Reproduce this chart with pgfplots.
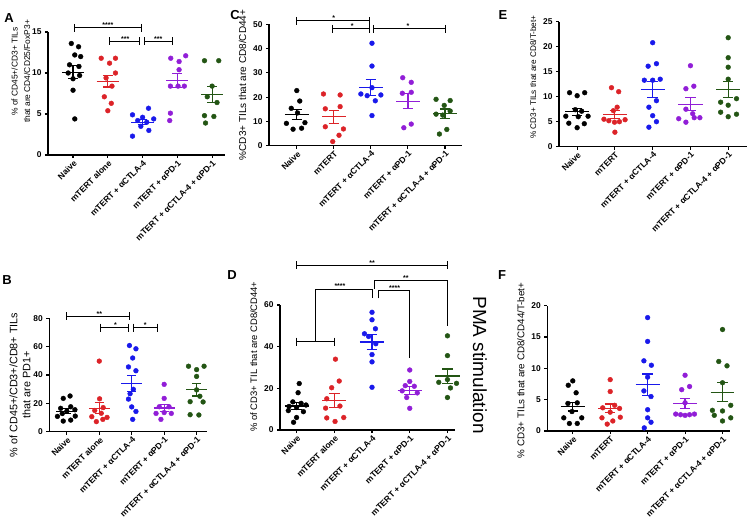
\documentclass[border=0pt]{standalone}
\usepackage{fontspec}
\setmainfont{Liberation Sans}
\usepackage{pgfplots}
\pgfplotsset{compat=1.18}

\definecolor{cblack}{RGB}{0,0,0}
\definecolor{cred}{RGB}{220,35,40}
\definecolor{cblue}{RGB}{25,25,235}
\definecolor{cpurple}{RGB}{145,30,215}
\definecolor{cgreen}{RGB}{35,85,20}

% mean +- SEM: x, mean, sem, colour
\newcommand{\msem}[4]{%
  \addplot[#4,line width=1.3pt] coordinates {({#1-0.32},#2) ({#1+0.32},#2)};
  \addplot[#4,line width=1.2pt] coordinates {(#1,{#2-#3}) (#1,{#2+#3})};
  \addplot[#4,line width=1.2pt] coordinates {({#1-0.14},{#2+#3}) ({#1+0.14},{#2+#3})};
  \addplot[#4,line width=1.2pt] coordinates {({#1-0.14},{#2-#3}) ({#1+0.14},{#2-#3})};
}
% significance bar: x1, x2, y, stars, xmid
\newcommand{\ibeam}[5]{%
  \draw[line width=0.9pt] (axis cs:#1,#3) -- (axis cs:#2,#3);
  \draw[line width=0.9pt] ([yshift=4pt]axis cs:#1,#3) -- ([yshift=-4pt]axis cs:#1,#3);
  \draw[line width=0.9pt] ([yshift=4pt]axis cs:#2,#3) -- ([yshift=-4pt]axis cs:#2,#3);
  \node[font=\bfseries\fontsize{7}{7}\selectfont,anchor=base,inner sep=0pt] at (axis cs:#5,#3) {#4};
}
\newcommand{\stars}[3]{\node[font=\bfseries\fontsize{7}{7}\selectfont,anchor=base,inner sep=0pt] at (axis cs:#1,#2) {#3};}

\pgfplotsset{
  prism/.style={
    scale only axis, anchor=south west, clip=false,
    axis lines=left, axis line style={-,line width=1.1pt},
    tick align=outside, major tick length=3pt,
    tick style={line width=1.1pt,black},
    xtick={0,1,2,3,4},
    x tick label style={rotate=45,anchor=north east,inner sep=1pt,
      font=\bfseries\fontsize{8.5}{9}\selectfont},
    y tick label style={font=\bfseries\fontsize{8.4}{9}\selectfont},
    ylabel style={align=center},
    /pgf/number format/assume math mode=true,
    every axis plot/.append style={mark size=2.4pt},
  },
  alone/.style={xticklabels={Naive,mTERT alone,mTERT + αCTLA-4,mTERT + αPD-1,mTERT + αCTLA-4 + αPD-1}},
  plain/.style={xticklabels={Naive,mTERT,mTERT + αCTLA-4,mTERT + αPD-1,mTERT + αCTLA-4 + αPD-1}},
  dots/.style={only marks,mark=*,#1},
}

\begin{document}
\begin{tikzpicture}
\useasboundingbox (0,0) rectangle (748pt,531pt);

% ---------------- A
\begin{axis}[prism,alone,at={(48pt,376pt)},width=177pt,height=123pt,
  xmin=-0.72,xmax=4.37,ymin=0,ymax=15,ytick={0,5,10,15},
  ylabel style={font=\fontsize{8.4}{12.5}\selectfont,xshift=22pt,yshift=-5pt},
  ylabel={\% of CD45+/CD3+ TILs\\that are CD4/CD25/FoxP3+}]
\addplot[dots=cblack] coordinates {(-0.05,13.6) (0.16,13.2) (0.05,12.2) (0.22,12.0) (-0.1,11.0) (0.17,10.8) (-0.14,10.0) (0.19,9.7) (0.0,9.3) (0.0,7.9) (0.05,4.4)};
\addplot[dots=cred] coordinates {(0.81,11.8) (1.22,11.8) (1.05,11.2) (1.22,10.0) (0.95,9.4) (1.12,8.4) (0.9,7.1) (1.1,6.3) (1.0,5.4)};
\addplot[dots=cblue] coordinates {(2.17,5.7) (1.71,4.9) (2.0,4.6) (2.32,4.4) (1.86,4.2) (2.12,4.0) (1.95,3.5) (2.18,3.0) (1.71,2.3)};
\addplot[dots=cpurple] coordinates {(2.81,11.8) (3.24,12.1) (3.05,11.4) (3.05,10.4) (2.8,8.4) (3.02,8.4) (3.2,8.4) (2.8,5.1) (2.78,4.2)};
\addplot[dots=cgreen] coordinates {(3.78,11.5) (4.19,11.5) (4.0,8.4) (3.86,7.1) (4.14,6.4) (3.78,4.8) (4.05,4.7) (3.81,3.9)};
\msem{0}{10.1}{0.8}{cblack}
\msem{1}{9.0}{0.7}{cred}
\msem{2}{4.0}{0.3}{cblue}
\msem{3}{9.1}{0.85}{cpurple}
\msem{4}{7.4}{1.0}{cgreen}
\ibeam{0.03}{1.97}{15.5}{****}{1}
\ibeam{1.05}{1.92}{13.85}{***}{1.5}
\ibeam{2.06}{2.86}{13.85}{***}{2.45}
\end{axis}

% ---------------- C
\begin{axis}[prism,plain,at={(269pt,385.3pt)},width=193pt,height=121.4pt,
  xmin=-0.75,xmax=4.46,ymin=0,ymax=50,ytick={0,10,20,30,40,50},
  ylabel style={font=\fontsize{10}{12}\selectfont},
  ylabel={\%CD3+ TILs that are CD8/CD44+}]
\addplot[dots=cblack] coordinates {(0,22.7) (0.08,18.4) (-0.15,15.4) (0.02,13.5) (-0.28,9.2) (0.22,9.5) (-0.1,6.8) (0.13,7.2)};
\addplot[dots=cred] coordinates {(0.72,21.3) (1.17,20.9) (1.17,16.1) (0.77,15.2) (0.77,7.8) (1.26,6.9) (1.14,4.3) (0.97,1.7)};
\addplot[dots=cblue] coordinates {(2.03,42.2) (2.03,32.8) (2.03,23.9) (1.73,21.3) (2.27,20.9) (1.9,20.6) (2.12,18.5) (2.03,12.4)};
\addplot[dots=cpurple] coordinates {(2.86,28.0) (3.09,26.1) (3.09,22.0) (2.85,21.6) (3.09,8.9) (2.89,7.4)};
\addplot[dots=cgreen] coordinates {(3.76,19.1) (4.14,18.6) (3.98,16.6) (4.14,14.3) (3.76,13.0) (3.94,12.6) (4.05,6.7) (3.85,4.8)};
\msem{0}{12.8}{2.0}{cblack}
\msem{1}{11.9}{2.6}{cred}
\msem{2}{24.1}{3.3}{cblue}
\msem{3}{18.3}{3.1}{cpurple}
\msem{4}{13.2}{1.9}{cgreen}
\ibeam{0}{1.97}{51.4}{*}{1}
\ibeam{0.97}{1.97}{48.1}{*}{1.5}
\ibeam{2.06}{4}{48.1}{*}{3}
\end{axis}

% ---------------- E
\begin{axis}[prism,plain,at={(559pt,384.3pt)},width=187.7pt,height=125pt,
  xmin=-0.48,xmax=4.49,ymin=0,ymax=25,ytick={0,5,10,15,20,25},
  ylabel style={font=\fontsize{8.2}{10}\selectfont,xshift=7pt},
  ylabel={\% CD3+ TILs that are CD8/T-bet+}]
\addplot[dots=cblack] coordinates {(-0.2,10.8) (0.2,10.8) (0,10.2) (-0.05,7.4) (0.12,7.1) (-0.3,6.1) (0.29,6.1) (0.03,6.0) (-0.22,4.7) (0.19,4.6) (0,3.8)};
\addplot[dots=cred] coordinates {(0.91,11.8) (1.1,11.0) (1.06,7.9) (0.96,7.2) (0.71,5.5) (0.84,5.2) (1.27,5.4) (1.12,5.0) (0.99,4.9) (1.0,2.9)};
\addplot[dots=cblue] coordinates {(2,20.8) (2.1,16.6) (1.88,16.1) (1.78,13.3) (2.0,13.3) (2.2,13.5) (2.1,9.2) (1.9,7.9) (2.0,6.2) (2.1,5.0) (1.9,3.9)};
\addplot[dots=cpurple] coordinates {(3,16.2) (3.09,12.1) (2.88,11.6) (2.88,7.5) (3.06,6.6) (2.69,5.6) (2.88,4.9) (3.1,5.8) (3.25,5.8)};
\addplot[dots=cgreen] coordinates {(4,21.8) (4,17.8) (4,15.9) (4,13.5) (3.8,8.9) (4.22,9.6) (4.0,8.3) (3.8,6.9) (4.22,6.5) (4.0,6.0)};
\msem{0}{7.0}{0.7}{cblack}
\msem{1}{6.5}{0.8}{cred}
\msem{2}{11.5}{1.6}{cblue}
\msem{3}{8.5}{1.3}{cpurple}
\msem{4}{11.5}{1.6}{cgreen}
\end{axis}

% ---------------- B
\begin{axis}[prism,alone,at={(49.3pt,99.3pt)},width=157.7pt,height=113.4pt,
  xmin=-0.54,xmax=4.32,ymin=0,ymax=80,ytick={0,20,40,60,80},
  ylabel style={font=\fontsize{10.8}{13}\selectfont,yshift=-4pt,xshift=-10pt},
  ylabel={\% of CD45+/CD3+/CD8+ TILs\\that are PD1+}]
\addplot[dots=cblack] coordinates {(0.1,25.2) (-0.11,23.5) (0.12,17.6) (-0.19,16.5) (0.25,15.5) (0.0,14.5) (-0.14,12.8) (-0.29,10.8) (0.26,11.0) (0.12,8.2) (-0.11,7.5)};
\addplot[dots=cred] coordinates {(1.0,49.8) (1.01,23.2) (1.12,17.0) (0.86,15.0) (1.06,13.0) (0.77,10.6) (1.24,10.1) (0.91,7.1) (1.11,8.7)};
\addplot[dots=cblue] coordinates {(1.93,60.8) (2.13,58.5) (2.03,52.0) (1.9,45.7) (2.13,43.0) (2.05,29.9) (1.95,26.8) (1.9,23.0) (2.0,17.5) (2.13,14.3) (2.03,8.7)};
\addplot[dots=cpurple] coordinates {(3,33.4) (3,23.5) (2.85,17.6) (3.15,17.6) (2.75,12.9) (3.0,13.5) (3.22,12.9) (2.9,8.7)};
\addplot[dots=cgreen] coordinates {(3.75,46.2) (4.23,46.2) (4.0,43.8) (4.0,39.0) (4.0,29.5) (4.1,25.0) (3.8,21.2) (4.2,21.0) (3.8,12.0) (4.07,11.8)};
\msem{0}{14.4}{1.8}{cblack}
\msem{1}{16.6}{4.0}{cred}
\msem{2}{34.2}{5.7}{cblue}
\msem{3}{16.8}{2.6}{cpurple}
\msem{4}{29.6}{4.4}{cgreen}
\ibeam{0}{1.92}{81.6}{**}{1}
\ibeam{1.05}{1.9}{73.4}{*}{1.5}
\ibeam{2.05}{2.8}{73.4}{*}{2.42}
\end{axis}

% ---------------- D
\begin{axis}[prism,alone,at={(280pt,101pt)},width=175pt,height=125pt,
  xmin=-0.44,xmax=4.2,ymin=0,ymax=60,ytick={0,20,40,60},
  ylabel style={font=\fontsize{9.4}{11}\selectfont,xshift=11pt},
  ylabel={\% of CD3+ TIL that are CD8/CD44+}]
\addplot[dots=cblack] coordinates {(0.07,22.3) (0.04,17.9) (-0.1,13.5) (0.12,12.8) (0.25,12.0) (-0.2,11.3) (0.0,10.8) (-0.22,9.3) (0.18,8.8) (0.0,6.0) (-0.08,3.7)};
\addplot[dots=cred] coordinates {(1.03,34.0) (1.13,23.5) (0.93,20.3) (0.8,15.0) (1.15,11.5) (0.77,10.5) (1.25,6.0) (0.8,5.8) (1.02,4.1)};
\addplot[dots=cblue] coordinates {(2,56.5) (2,52.9) (2.09,48.6) (1.8,46.2) (1.91,44.9) (2.1,41.4) (2.0,36.2) (2.0,32.7) (2.0,20.5)};
\addplot[dots=cpurple] coordinates {(3,28.8) (3,23.3) (2.88,21.3) (3.12,21.0) (2.8,18.8) (3.2,17.8) (2.92,15.6) (3.0,10.4)};
\addplot[dots=cgreen] coordinates {(4,45.2) (4,35.7) (3.77,22.9) (4.0,24.2) (4.24,22.4) (4.08,20.2) (4,15.6)};
\msem{0}{11.5}{1.7}{cblack}
\msem{1}{14.2}{3.3}{cred}
\msem{2}{42.2}{3.5}{cblue}
\msem{3}{19.0}{1.9}{cpurple}
\msem{4}{25.9}{3.4}{cgreen}
\ibeam{0}{4}{79}{**}{2}
\ibeam{0}{1}{42.4}{}{0.5}
\draw[line width=0.9pt] (axis cs:0.5,42.4) -- (axis cs:0.5,67.7) -- (axis cs:2,67.7) -- (axis cs:2,63.2);
\draw[line width=0.9pt] (axis cs:2.18,63.2) -- (axis cs:2.18,67.2) -- (axis cs:3,67.2) -- (axis cs:3,34.7);
\draw[line width=0.9pt] (axis cs:2.06,67.9) -- (axis cs:2.06,72) -- (axis cs:4,72) -- (axis cs:4,50);
\stars{1.15}{67.7}{****}
\stars{2.6}{67.2}{****}
\stars{2.9}{72}{**}
\end{axis}

% ---------------- F
\begin{axis}[prism,plain,at={(547.3pt,100pt)},width=182.7pt,height=125.3pt,
  xmin=-0.68,xmax=4.2,ymin=0,ymax=20,ytick={0,5,10,15,20},
  ylabel style={font=\fontsize{9.8}{11}\selectfont,xshift=-2pt},
  ylabel={\% CD3+ TILs that are CD8/CD44/T-bet+}]
\addplot[dots=cblack] coordinates {(0.0,8.0) (-0.12,7.3) (0.09,6.1) (-0.13,4.4) (0.12,4.5) (-0.02,3.1) (-0.24,2.1) (0.24,2.1) (-0.09,1.2) (0.12,1.2)};
\addplot[dots=cred] coordinates {(1,8.2) (1,6.3) (1.12,4.1) (0.8,3.7) (1.25,3.6) (1.0,3.0) (1.27,2.2) (0.78,2.1) (1.07,1.6) (0.92,1.1)};
\addplot[dots=cblue] coordinates {(2,18.1) (2,14.3) (1.9,11.2) (2.1,10.5) (2,8.6) (1.9,6.4) (2.09,5.5) (2,3.4) (2,2.1) (2.09,1.4) (1.91,0.5)};
\addplot[dots=cpurple] coordinates {(3,8.9) (3.12,7.1) (2.91,6.6) (3,4.5) (2.75,2.7) (2.88,2.6) (3.0,2.5) (3.12,2.6) (3.25,2.7)};
\addplot[dots=cgreen] coordinates {(4,16.2) (3.9,11.1) (4.12,10.4) (4,7.7) (4.22,4.1) (3.73,3.3) (4.0,3.2) (3.78,2.5) (4.22,2.1) (4.0,1.6)};
\msem{0}{3.9}{0.7}{cblack}
\msem{1}{3.6}{0.7}{cred}
\msem{2}{7.4}{1.7}{cblue}
\msem{3}{4.4}{0.8}{cpurple}
\msem{4}{6.2}{1.5}{cgreen}
\end{axis}

\node[rotate=-90,font=\fontsize{19}{19}\selectfont] at (480pt,166pt) {PMA stimulation};

\node[font=\bfseries\fontsize{13}{13}\selectfont] at (9pt,513pt) {A};
\node[font=\bfseries\fontsize{13}{13}\selectfont] at (7pt,251pt) {B};
\node[font=\bfseries\fontsize{13}{13}\selectfont] at (235pt,516pt) {C};
\node[font=\bfseries\fontsize{13}{13}\selectfont] at (232pt,256pt) {D};
\node[font=\bfseries\fontsize{13}{13}\selectfont] at (503pt,516pt) {E};
\node[font=\bfseries\fontsize{13}{13}\selectfont] at (502pt,256pt) {F};
\end{tikzpicture}
\end{document}
